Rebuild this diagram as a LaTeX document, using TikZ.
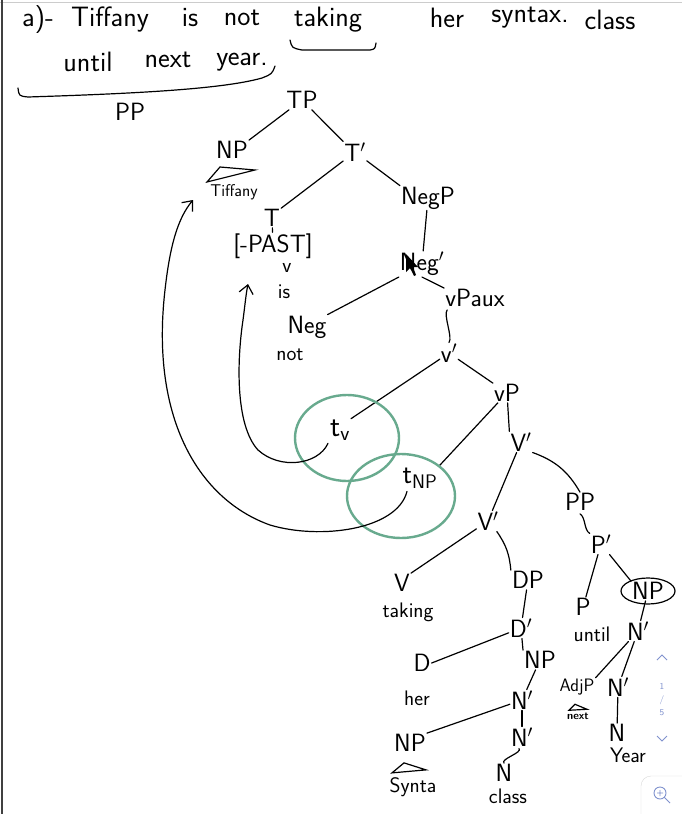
\documentclass[tikz,border=0pt]{standalone}
\usepackage{fontspec}
\usepackage{tikz}
\usetikzlibrary{arrows,arrows.meta,calc}

\definecolor{tracegreen}{RGB}{104,170,142}
\definecolor{pagegray}{RGB}{128,146,206}
\tikzset{
  cat/.style={font=\fontsize{25}{27}\selectfont\sffamily,inner sep=1pt},
  word/.style={font=\fontsize{21}{23}\selectfont\sffamily,inner sep=1pt},
  title/.style={font=\fontsize{28}{30}\selectfont\sffamily,inner sep=1pt},
  branch/.style={line width=1.2pt,line cap=round},
  trace/.style={draw=tracegreen,line width=2.4pt}
}

\begin{document}
\begin{tikzpicture}[x=1pt,y=-1pt]
  \useasboundingbox (0,0) rectangle (682,814);
  \fill[white] (0,0) rectangle (682,814);
  \draw[gray!40,line width=1pt] (0,2) -- (682,2);
  \draw[black!75,line width=2pt] (2,0) -- (2,814);

  % the sentence
  \node[title] (w1) at (38,20) {a)-};
  \node[title] (w2) at (110,20) {Tiffany};
  \node[title] (w3) at (190,18) {is};
  \node[title] (w4) at (242,18) {not};
  \node[title] (w5) at (328,20) {taking};
  \node[title] (w6) at (447,18) {her};
  \node[title] (w7) at (530,18) {syntax.};
  \node[title] (w8) at (610,20) {class};
  \node[title] (w9) at (88,62) {until};
  \node[title] (w10) at (168,60) {next};
  \node[title] (w11) at (242,62) {year.};
  \draw[branch] (290,40) .. controls (292,48) .. (302,50) -- (370,50) .. controls (375,49) .. (376,43);
  \draw[branch] (18,88) .. controls (19,96) .. (28,97) .. controls (120,94) and (220,90) .. (262,78) .. controls (272,74) .. (275,66);
  \node[cat] (ppl) at (130,112) {PP};

  % tree
  \node[cat] (tp) at (302,100) {TP};
  \node[cat] (np) at (232,150) {NP};
  \node[word,font=\fontsize{17}{19}\selectfont\sffamily] (tiff) at (234,192) {Tiffany};
  \node[cat] (tbar) at (355,152) {T$'$};
  \node[cat] (t) at (272,218) {T};
  \node[cat] (past) at (273,246) {[-PAST]};
  \node[word] (vmark) at (287,268) {v};
  \node[word] (is) at (284,292) {is};
  \node[cat] (negp) at (428,198) {NegP};
  \node[cat] (negbar) at (422,264) {Neg$'$};
  \node[cat] (neg) at (307,327) {Neg};
  \node[word] (not) at (290,355) {not};
  \node[cat] (vpaux) at (475,298) {vPaux};
  \node[cat] (vbar) at (449,353) {v$'$};
  \node[cat] (vp) at (507,393) {vP};
  \node[cat,font=\fontsize{30}{32}\selectfont\sffamily] (tv) at (340,430) {t$_{\mathsf{v}}$};
  \node[cat] (Vbara) at (521,442) {V$'$};
  \node[cat,font=\fontsize{28}{30}\selectfont\sffamily] (tnp) at (420,478) {t$_{\mathsf{NP}}$};
  \node[cat] (pp) at (580,502) {PP};
  \node[cat] (Vbarb) at (488,521) {V$'$};
  \node[cat] (pbar) at (601,544) {P$'$};
  \node[cat] (V) at (402,583) {V};
  \node[word] (taking) at (408,612) {taking};
  \node[cat] (dp) at (528,580) {DP};
  \node[cat] (P) at (583,607) {P};
  \node[word] (until) at (592,634) {until};
  \node[cat] (npc) at (648,591) {NP};
  \node[cat] (dbar) at (521,628) {D$'$};
  \node[cat] (nbara) at (638,631) {N$'$};
  \node[cat] (D) at (422,663) {D};
  \node[word] (her) at (417,698) {her};
  \node[cat] (npb) at (540,660) {NP};
  \node[cat] (nbarb) at (522,700) {N$'$};
  \node[cat,font=\fontsize{18}{20}\selectfont\sffamily] (adjp) at (577,687) {AdjP};
  \node[word,font=\fontsize{11}{12}\selectfont\sffamily\bfseries] (next) at (578,716) {next};
  \node[cat] (nbarc) at (618,687) {N$'$};
  \node[cat] (nbard) at (522,737) {N$'$};
  \node[cat] (npd) at (410,743) {NP};
  \node[cat] (nyear) at (617,733) {N};
  \node[word] (year) at (628,755) {Year};
  \node[word] (synta) at (413,787) {Synta};
  \node[cat] (nclass) at (504,773) {N};
  \node[word] (class) at (508,796) {class};

  \path[branch]
    (tp) edge (np.north east)
    (tp) edge (tbar.north west)
    (tbar) edge (t.north east)
    (tbar) edge (negp.north west)
    (t) edge (past)
    (negp) edge (negbar)
    (negbar.south west) edge (neg.north east)
    (negbar.south) edge (vpaux.north west)
    (vbar) edge (tv.north east)
    (vbar) edge (vp.north west)
    (vp) edge (tnp.north east)
    (vp) edge (Vbara.north west)
    (Vbara) edge (Vbarb)
    (Vbara.south east) edge[bend left=20] (pp.north)
    (Vbarb) edge (V.north east)
    (Vbarb) edge[bend left=15] (dp.north west)
    (dp) edge (dbar)
    (dbar) edge (D.east)
    (dbar) edge (npb.north west)
    (npb) edge (nbarb)
    (nbarb) edge (npd.north east)
    (nbarb) edge (nbard)
    (pbar) edge (P)
    (pbar) edge (npc.north west)
    (npc) edge (nbara)
    (nbara) edge (adjp.north east)
    (nbara) edge (nbarc)
    (nbarc) edge (nyear);
  \draw[branch] (vpaux.south west) ++(3,2) .. controls +(-4,5) and +(4,-5) .. (vbar.north);
  \draw[branch] (pp.south) ++(0,2) .. controls +(6,4) and +(-6,-4) .. (pbar.north west);
  \draw[branch] (nbard.south) ++(-3,1) .. controls +(4,4) and +(-4,-4) .. (nclass.north);

  % roofs
  \draw[branch] (207,182) -- (220,167) -- (255,170) -- cycle;
  \draw[branch] (npd.south) ++(-18,20) -- ++(12,-10) -- ++(22,7) -- cycle;
  \draw[branch] (adjp.south) ++(-8,14) -- ++(6,-6) -- ++(12,5) -- cycle;

  % circles
  \draw[trace] (tv) ++(7,8) ellipse (52 and 43);
  \draw[trace] (tnp) ++(-19,18) ellipse (54 and 42);
  \draw[branch] (npc) ellipse (27 and 13);

  % movement
  \coordinate (tifffoot) at (193,200);
  \coordinate (isfoot) at (248,284);
  \draw[->,branch,>={Straight Barb[angle=80:11pt]}]
    (tnp.south) ++(-13,2) .. controls (397,530) and (320,540) .. (270,525)
    .. controls (200,500) and (150,420) .. (165,290)
    .. controls (170,245) and (178,218) .. (tifffoot);
  \draw[->,branch,>={Straight Barb[angle=80:11pt]}]
    (tv.south) ++(-12,2) .. controls (318,465) and (280,470) .. (258,450)
    .. controls (235,425) and (237,360) .. (243,320)
    .. controls (245,305) and (246,294) .. (isfoot);
  \fill (406,254) -- (406,272) -- (410,268) -- (414,276) -- (416,275) -- (413,267) -- (418,267) -- cycle;

  % viewer controls
  \draw[pagegray,line width=0.8pt] (657,660) -- (662,655) -- (667,660);
  \node[text=pagegray,font=\sffamily\small] (pgnum) at (662,686) {1};
  \node[text=pagegray,font=\sffamily\small] (pgsep) at (662,700) {/};
  \node[text=pagegray,font=\sffamily\small] (pgtot) at (662,713) {5};
  \draw[pagegray,line width=0.8pt] (657,736) -- (662,741) -- (667,736);
  \draw[gray!30,fill=white,rounded corners=10pt] (641,776) rectangle (700,830);
  \draw[pagegray,line width=0.9pt] (660,793) circle (6) (664.5,797.5) -- (670,803)
    (657,793) -- (663,793) (660,790) -- (660,796);
\end{tikzpicture}
\end{document}
